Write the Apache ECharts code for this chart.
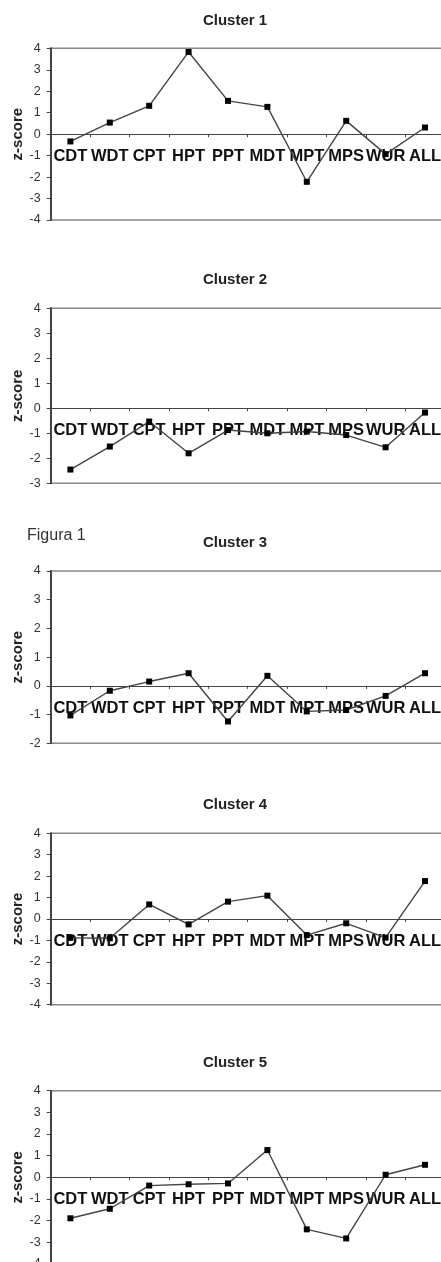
<!DOCTYPE html>
<html>
<head>
<meta charset="utf-8">
<script src="https://cdn.jsdelivr.net/npm/echarts@6/dist/echarts.min.js"></script>
<style>
html,body{margin:0;padding:0;background:#fff;}
#chart{width:441px;height:1262px;}
</style>
</head>
<body>
<div id="chart"></div>
<script>
// ---- data ----
const categories = ['CDT','WDT','CPT','HPT','PPT','MDT','MPT','MPS','WUR','ALL'];
const titles = ['Cluster 1','Cluster 2','Cluster 3','Cluster 4','Cluster 5'];
const cluster1 = [-0.34, 0.54, 1.32, 3.83, 1.55, 1.27, -2.22, 0.62, -0.93, 0.31];
const cluster2 = [-2.45, -1.53, -0.53, -1.80, -0.87, -1.00, -0.93, -1.07, -1.56, -0.17];
const cluster3 = [-1.03, -0.17, 0.15, 0.44, -1.24, 0.35, -0.89, -0.84, -0.35, 0.44];
const cluster4 = [-0.88, -0.90, 0.68, -0.25, 0.81, 1.09, -0.75, -0.20, -0.87, 1.77];
const cluster5 = [-1.89, -1.45, -0.38, -0.32, -0.28, 1.26, -2.40, -2.82, 0.12, 0.58];
const yMins = [-4, -3, -2, -4, -4];
const yMaxs = [4, 4, 4, 4, 4];
const figureLabel = 'Figura 1';
const yAxisName = 'z-score';

const seriesData = [cluster1, cluster2, cluster3, cluster4, cluster5];

// ---- layout (pixels) ----
const gridTops = [48.3, 308.3, 571, 833.3, 1090.7];
const gridBottoms = [220, 483.3, 743.3, 1004.7, 1264];
const titleCenters = [22, 281.7, 544.3, 806.7, 1064];

const chart = echarts.init(document.getElementById('chart'), null, {renderer:'canvas'});

const grids = [], xAxes = [], yAxes = [], series = [], titleOpts = [];
for (let i = 0; i < 5; i++) {
  const h = gridBottoms[i] - gridTops[i];
  // distance of the value-zero line above the grid bottom, derived from the axis range
  const zeroOffset = h * (0 - yMins[i]) / (yMaxs[i] - yMins[i]);
  grids.push({
    left: 50.7, top: gridTops[i], width: 394, height: h,
    outerBoundsMode: 'none',
    show: true, borderColor: '#888', borderWidth: 1.5, backgroundColor: 'transparent',
    containLabel: false
  });
  xAxes.push({
    type: 'category', gridIndex: i, data: categories, position: 'bottom',
    offset: -zeroOffset,
    boundaryGap: true,
    axisLine: {show: true, onZero: false, lineStyle: {color: '#444', width: 1.2}},
    axisTick: {show: true, inside: false, length: 3, alignWithLabel: false, lineStyle: {color: '#444', width: 1}},
    axisLabel: {interval: 0, margin: 14, fontFamily: 'Liberation Sans, Arial, sans-serif', fontWeight: 'bold', fontSize: 16.5, color: '#111', hideOverlap: false},
    splitLine: {show: false}
  });
  yAxes.push({
    type: 'value', gridIndex: i, min: yMins[i], max: yMaxs[i], interval: 1,
    name: yAxisName, nameLocation: 'middle', nameGap: 25, nameRotate: 90,
    nameMoveOverlap: false,
    nameTextStyle: {fontFamily: 'Liberation Sans, Arial, sans-serif', fontWeight: 'bold', fontSize: 15, color: '#222'},
    axisLine: {show: true, lineStyle: {color: '#444', width: 2}},
    axisTick: {show: true, inside: false, length: 4, lineStyle: {color: '#444'}},
    axisLabel: {margin: 10, fontFamily: 'Liberation Sans, Arial, sans-serif', fontSize: 12.5, color: '#333'},
    splitLine: {show: false}
  });
  series.push({
    type: 'line', xAxisIndex: i, yAxisIndex: i, data: seriesData[i],
    symbol: 'rect', symbolSize: 6, showSymbol: true,
    lineStyle: {color: '#444', width: 1.4},
    itemStyle: {color: '#000'},
    z: 3,
    animation: false, silent: true
  });
  titleOpts.push({
    text: titles[i], left: 235, textAlign: 'center', top: titleCenters[i] - 9, padding: 0,
    textStyle: {fontFamily: 'Liberation Sans, Arial, sans-serif', fontWeight: 'bold', fontSize: 15, color: '#222'}
  });
}

chart.setOption({
  animation: false,
  title: titleOpts,
  grid: grids,
  xAxis: xAxes,
  yAxis: yAxes,
  series: series,
  graphic: [{
    type: 'text', left: 27, top: 528,
    style: {text: figureLabel, font: '16px "Liberation Sans", Arial, sans-serif', fill: '#333'}
  }]
});
</script>
</body>
</html>
